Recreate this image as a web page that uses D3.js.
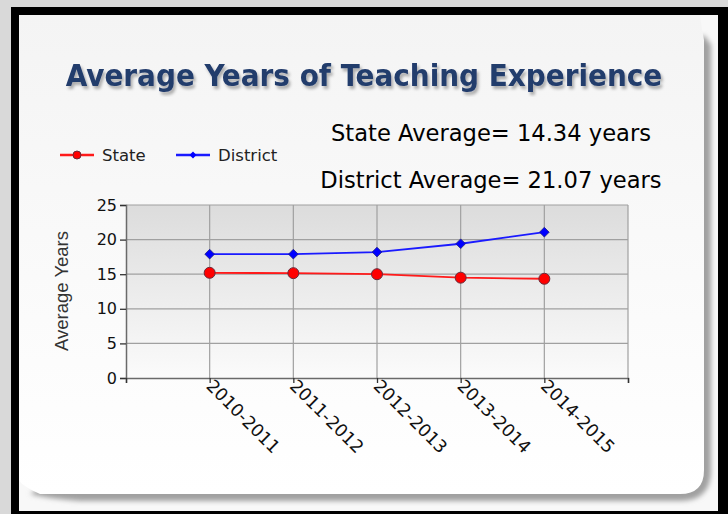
<!DOCTYPE html>
<html>
<head>
  <meta charset="utf-8">
  <title>Average Years of Teaching Experience</title>
  <script src="https://d3js.org/d3.v7.min.js"></script>
  <style>
    body { margin: 0; background: #d9d9d9; }
    svg { display: block; }
  </style>
</head>
<body>
  <div id="chart"></div>
  <script>
    // data
    const years = ["2010-2011", "2011-2012", "2012-2013", "2013-2014", "2014-2015"];
    const stateValues = [15.2, 15.15, 15.0, 14.5, 14.34];
    const districtValues = [17.9, 17.9, 18.2, 19.4, 21.07];
    const yTicks = [0, 5, 10, 15, 20, 25];
    const notes = ["State Average= 14.34 years", "District Average= 21.07 years"];

    const W = 728, H = 514;
    const svg = d3.select("#chart").append("svg")
      .attr("width", W).attr("height", H);

    const defs = svg.append("defs");

    const bgGrad = defs.append("linearGradient").attr("id", "plotbg")
      .attr("x1", 0).attr("y1", 0).attr("x2", 0).attr("y2", 1);
    bgGrad.append("stop").attr("offset", "0%").attr("stop-color", "#dcdcdc");
    bgGrad.append("stop").attr("offset", "100%").attr("stop-color", "#fbfbfb");

    const panelGrad = defs.append("linearGradient").attr("id", "panelbg")
      .attr("x1", 0).attr("y1", 0).attr("x2", 0).attr("y2", 1);
    panelGrad.append("stop").attr("offset", "0%").attr("stop-color", "#f4f4f4");
    panelGrad.append("stop").attr("offset", "100%").attr("stop-color", "#ffffff");

    const blur = defs.append("filter").attr("id", "blur")
      .attr("x", "-10%").attr("y", "-10%").attr("width", "120%").attr("height", "120%");
    blur.append("feGaussianBlur").attr("stdDeviation", 2.5);

    const tshadow = defs.append("filter").attr("id", "tshadow");
    tshadow.append("feDropShadow").attr("dx", 2).attr("dy", 3)
      .attr("stdDeviation", 1.5).attr("flood-color", "#000").attr("flood-opacity", 0.3);

    // frame
    svg.append("rect").attr("x", 11).attr("y", 7).attr("width", W - 11).attr("height", H - 7)
      .attr("fill", "#000");
    svg.append("rect").attr("x", 19).attr("y", 15).attr("width", 699).attr("height", 496)
      .attr("fill", "#f8f8f8");

    // page curl shadow then panel
    svg.append("path")
      .attr("d", "M704,35 L711,45 L711,470 Q711,501 680,501 L80,501 Q50,499 30,494 Z")
      .attr("fill", "#a0a0a0").attr("filter", "url(#blur)");
    svg.append("path")
      .attr("d", "M19,15 L700,15 Q702,30 704,40 L704,470 Q704,494 680,494 L40,494 Q22,486 19,480 Z")
      .attr("fill", "url(#panelbg)");

    // title
    svg.append("text")
      .attr("x", 364).attr("y", 86)
      .attr("text-anchor", "middle")
      .attr("font-family", "DejaVu Sans Condensed, DejaVu Sans, sans-serif")
      .attr("font-weight", "bold")
      .attr("font-size", 31)
      .attr("fill", "#223c6c")
      .attr("filter", "url(#tshadow)")
      .text("Average Years of Teaching Experience");

    // average notes
    svg.selectAll("text.note")
      .data(notes)
      .join("text")
      .attr("class", "note")
      .attr("x", 491)
      .attr("y", (d, i) => 141 + i * 47)
      .attr("text-anchor", "middle")
      .attr("font-family", "DejaVu Sans, sans-serif")
      .attr("font-size", 22.6)
      .attr("fill", "#000")
      .text(d => d);

    // plot area
    const pLeft = 126, pRight = 628, pTop = 205, pBottom = 378;
    const x = d3.scalePoint().domain(["", ...years, " "]).range([pLeft, pRight]);
    const y = d3.scaleLinear().domain([0, 25]).range([pBottom, pTop]);

    const plot = svg.append("g");
    plot.append("rect")
      .attr("x", pLeft).attr("y", pTop)
      .attr("width", pRight - pLeft).attr("height", pBottom - pTop)
      .attr("fill", "url(#plotbg)");

    // grid
    plot.selectAll("line.hgrid")
      .data(yTicks.filter(d => d > 0))
      .join("line")
      .attr("class", "hgrid")
      .attr("x1", pLeft).attr("x2", pRight)
      .attr("y1", d => y(d)).attr("y2", d => y(d))
      .attr("stroke", "#a0a0a0").attr("stroke-width", 1.2);
    plot.selectAll("line.vgrid")
      .data(years.concat([" "]))
      .join("line")
      .attr("class", "vgrid")
      .attr("x1", d => x(d)).attr("x2", d => x(d))
      .attr("y1", pTop).attr("y2", pBottom)
      .attr("stroke", "#a0a0a0").attr("stroke-width", 1.2);

    // axes
    const yAxis = svg.append("g")
      .attr("transform", `translate(${pLeft},0)`)
      .call(d3.axisLeft(y).tickValues(yTicks).tickSize(6).tickPadding(3));
    const xAxis = svg.append("g")
      .attr("transform", `translate(0,${pBottom})`)
      .call(d3.axisBottom(x).tickSize(5).tickFormat(d => d.trim()));
    [yAxis, xAxis].forEach(g => {
      g.select(".domain").attr("stroke", "#6a6a6a").attr("stroke-width", 1.5);
      g.selectAll(".tick line").attr("stroke", "#333").attr("stroke-width", 1.3);
      g.selectAll("text")
        .attr("font-family", "DejaVu Sans, sans-serif")
        .attr("font-size", 16)
        .attr("fill", "#111");
    });
    xAxis.selectAll(".tick text")
      .attr("font-size", 17.5)
      .attr("text-anchor", "start")
      .attr("dy", 0)
      .attr("y", 0)
      .attr("transform", "translate(-5,9) rotate(45)");

    svg.append("text")
      .attr("transform", "translate(68,291) rotate(-90)")
      .attr("text-anchor", "middle")
      .attr("font-family", "Liberation Sans, Arial, sans-serif")
      .attr("font-size", 18.5)
      .attr("fill", "#333")
      .text("Average Years");

    // lines
    const line = d3.line().x((d, i) => x(years[i])).y(d => y(d));
    plot.append("path").datum(stateValues)
      .attr("d", line).attr("fill", "none")
      .attr("stroke", "#ff1a1a").attr("stroke-width", 1.8);
    plot.append("path").datum(districtValues)
      .attr("d", line).attr("fill", "none")
      .attr("stroke", "#1a1aff").attr("stroke-width", 1.8);

    plot.selectAll("circle.state")
      .data(stateValues)
      .join("circle")
      .attr("class", "state")
      .attr("cx", (d, i) => x(years[i])).attr("cy", d => y(d))
      .attr("r", 5.5)
      .attr("fill", "#ff0000").attr("stroke", "#6a2a3a").attr("stroke-width", 1);
    const diamond = d3.symbol().type(d3.symbolDiamond2).size(60);
    plot.selectAll("path.district")
      .data(districtValues)
      .join("path")
      .attr("class", "district")
      .attr("transform", (d, i) => `translate(${x(years[i])},${y(d)})`)
      .attr("d", diamond)
      .attr("fill", "#0000ff").attr("stroke", "#202080").attr("stroke-width", 0.8);

    // legend
    const legend = svg.append("g").attr("font-family", "DejaVu Sans, sans-serif")
      .attr("font-size", 16.5).attr("fill", "#222");
    const lg = [
      { name: "State", color: "#ff1a1a", x: 60 },
      { name: "District", color: "#1a1aff", x: 176 }
    ];
    legend.selectAll("line")
      .data(lg).join("line")
      .attr("x1", d => d.x).attr("x2", d => d.x + 34)
      .attr("y1", 155).attr("y2", 155)
      .attr("stroke", d => d.color).attr("stroke-width", 2.5);
    legend.append("circle").attr("cx", 77).attr("cy", 155).attr("r", 4)
      .attr("fill", "#ff0000").attr("stroke", "#6a2a3a");
    legend.append("path").attr("transform", "translate(193,155)")
      .attr("d", d3.symbol().type(d3.symbolDiamond2).size(30))
      .attr("fill", "#0000ff");
    legend.selectAll("text")
      .data(lg).join("text")
      .attr("x", d => d.x + 42).attr("y", 161)
      .text(d => d.name);
  </script>
</body>
</html>
